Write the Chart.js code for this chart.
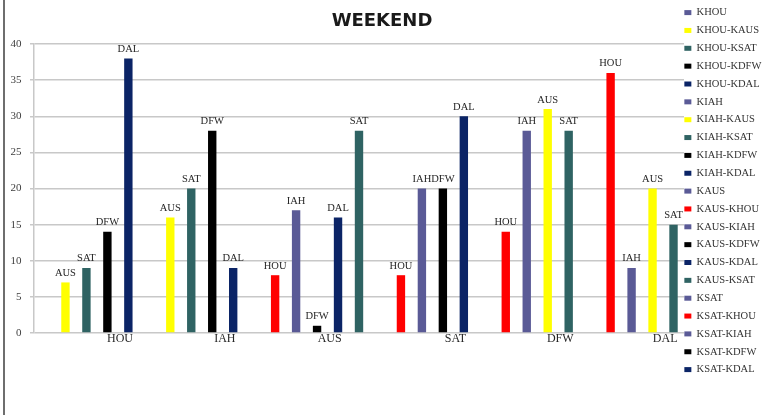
<!DOCTYPE html>
<html>
<head>
<meta charset="utf-8">
<script src="https://cdn.jsdelivr.net/npm/chart.js@4.4.1/dist/chart.umd.min.js"></script>
<style>
  html,body{margin:0;padding:0;background:#fff;}
  #wrap{position:relative;width:762px;height:415px;}
  #frame{position:absolute;left:3px;top:0;width:2px;height:415px;background:#6e6e6e;}
</style>
</head>
<body>
<div id="wrap">
  <canvas id="weekendChart" width="762" height="415"></canvas>
  <div id="frame"></div>
</div>
<script>
// one slot per series; origin-only series (no dash) are the empty group starters
const series = [
  'KHOU','KHOU-KAUS','KHOU-KSAT','KHOU-KDFW','KHOU-KDAL',
  'KIAH','KIAH-KAUS','KIAH-KSAT','KIAH-KDFW','KIAH-KDAL',
  'KAUS','KAUS-KHOU','KAUS-KIAH','KAUS-KDFW','KAUS-KDAL','KAUS-KSAT',
  'KSAT','KSAT-KHOU','KSAT-KIAH','KSAT-KDFW','KSAT-KDAL',
  'KDFW','KDFW-KHOU','KDFW-KIAH','KDFW-KAUS','KDFW-KSAT',
  'KDAL','KDAL-KHOU','KDAL-KIAH','KDAL-KAUS','KDAL-KSAT'
];
const trips = [
  0, 7, 9, 14, 38,
  0, 16, 20, 28, 9,
  0, 8, 17, 1, 16, 28,
  0, 8, 20, 20, 30,
  0, 14, 28, 31, 28,
  0, 36, 9, 20, 15
];
const yTicks = [0, 5, 10, 15, 20, 25, 30, 35, 40];
const legendCount = 21; // the rest did not fit in the original legend

const destColors = {KHOU:'#ff0000', KIAH:'#5a5a96', KAUS:'#ffff00', KSAT:'#2f6363', KDFW:'#000000', KDAL:'#0b2466'};
const originColor = '#5a5a96';
const serif = '"Liberation Serif", "DejaVu Serif", serif';

const datasets = series.map((name, i) => {
  const parts = name.split('-');
  return {
    label: name,
    data: series.map((_, j) => j === i ? trips[i] : null),
    backgroundColor: parts.length > 1 ? destColors[parts[1]] : originColor,
    borderWidth: 0,
    barPercentage: 0.4,
    categoryPercentage: 1
  };
});

const barText = {
  id: 'barText',
  afterDatasetsDraw(chart){
    const {ctx, scales:{x, y}} = chart;
    ctx.save();
    ctx.textAlign = 'center';
    ctx.fillStyle = '#262626';
    series.forEach((name, i) => {
      const parts = name.split('-');
      if(parts.length === 1){
        ctx.font = '12px ' + serif;
        ctx.textBaseline = 'middle';
        ctx.fillText(name.slice(1), x.getPixelForValue(i + 3.6), y.getPixelForValue(0) + 6);
      } else {
        const bar = chart.getDatasetMeta(i).data[i];
        ctx.font = '10.5px ' + serif;
        ctx.textBaseline = 'bottom';
        ctx.fillText(parts[1].slice(1), bar.x, bar.y - 4);
      }
    });
    ctx.restore();
  }
};

// the original legend sits a little over the plot area
const legendNudge = {
  id: 'legendNudge',
  afterLayout(chart){ chart.legend.left -= 7; }
};

new Chart(document.getElementById('weekendChart'), {
  type: 'bar',
  data: { labels: series, datasets },
  plugins: [barText, legendNudge],
  options: {
    responsive: false,
    animation: false,
    layout: { padding: { left: 2 } },
    plugins: {
      tooltip: { enabled: false },
      title: {
        display: true,
        text: 'WEEKEND',
        color: '#1a1a1a',
        font: { family: '"DejaVu Sans", sans-serif', size: 18, weight: 'bold', lineHeight: 1.2 },
        padding: { top: 10.5, bottom: 11.9 }
      },
      legend: {
        position: 'right',
        align: 'start',
        maxWidth: 78,
        labels: {
          boxWidth: 7,
          boxHeight: 5,
          padding: 7.35,
          color: '#333',
          font: { family: serif, size: 10.5 },
          filter: (item) => item.datasetIndex < legendCount
        }
      }
    },
    scales: {
      x: {
        stacked: true,
        ticks: { display: false },
        grid: { display: false },
        border: { display: false },
        afterFit: (scale) => { scale.height = 82; }
      },
      y: {
        stacked: true,
        min: yTicks[0],
        max: yTicks[yTicks.length - 1],
        afterBuildTicks: (scale) => { scale.ticks = yTicks.map(v => ({value: v})); },
        ticks: { padding: 8.5, color: '#404040', font: { family: serif, size: 11 } },
        grid: { color: '#c8c8c8', lineWidth: 1.5, tickLength: 4 },
        border: { color: '#c8c8c8', width: 1.5 }
      }
    }
  }
});
</script>
</body>
</html>
